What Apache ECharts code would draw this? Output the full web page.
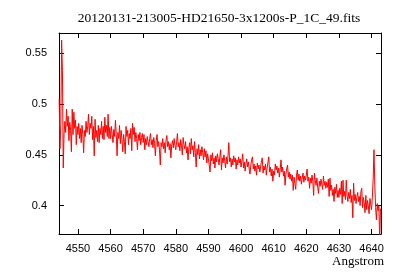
<!DOCTYPE html>
<html>
<head>
<meta charset="utf-8">
<script src="https://cdn.jsdelivr.net/npm/echarts@6.0.0/dist/echarts.min.js"></script>
<style>
  html, body { margin: 0; padding: 0; background: #fff; }
  #spectrum { width: 400px; height: 280px; }
</style>
</head>
<body>
<div id="spectrum"></div>
<script>
const step = 0.25
const segStart = [4544.25, 4550, 4560, 4570, 4580, 4590, 4600, 4610, 4620, 4630, 4640]
const f4544 = [505, 456, 480, 563, 533, 437, 470, 483, 472, 495, 478, 488, 464, 482, 474, 453, 495, 470, 492, 476, 484, 460, 478]
const f4550 = [470, 481, 466, 476, 462, 479, 470, 452, 474, 468, 483, 472, 478, 490, 470, 481, 476, 488, 465, 478,
  449, 485, 467, 474, 463, 479, 462, 476, 470, 483, 466, 478, 465, 487, 472, 479, 468, 490, 466, 477]
const f4560 = [466, 478, 470, 462, 475, 468, 484, 470, 449, 472, 466, 479, 461, 474, 465, 453, 470, 463, 451, 478,
  468, 474, 460, 471, 466, 476, 454, 481, 470, 477, 463, 472, 466, 455, 470, 464, 472, 460, 467, 471]
const f4570 = [462, 470, 455, 466, 460, 468, 463, 458, 466, 471, 460, 465, 457, 467, 461, 449, 464, 470, 458, 463,
  455, 440, 462, 458, 466, 456, 462, 452, 464, 469, 458, 463, 455, 461, 447, 460, 464, 457, 466, 459]
const f4580 = [455, 463, 471, 458, 462, 454, 465, 459, 450, 467, 460, 456, 463, 452, 458, 445, 457, 462, 451, 466,
  455, 459, 448, 463, 452, 438, 456, 450, 460, 446, 455, 449, 458, 452, 445, 456, 448, 454, 442, 451]
const f4590 = [446, 440, 433, 450, 444, 452, 441, 447, 437, 449, 443, 451, 446, 440, 448, 455, 435, 447, 442, 450,
  444, 437, 448, 441, 449, 462, 443, 447, 438, 446, 440, 449, 443, 447, 436, 445, 440, 448, 442, 446]
const f4600 = [438, 444, 451, 437, 443, 434, 441, 446, 438, 443, 436, 431, 440, 445, 448, 436, 441, 434, 439, 430,
  442, 436, 440, 433, 438, 444, 447, 432, 439, 435, 441, 430, 437, 443, 448, 433, 438, 429, 436, 424]
const f4610 = [434, 430, 441, 435, 439, 432, 437, 428, 436, 445, 433, 438, 429, 434, 420, 431, 436, 440, 428, 433,
  426, 431, 424, 430, 415, 428, 422, 416, 430, 435, 425, 431, 424, 429, 421, 427, 432, 423, 429, 425]
const f4620 = [430, 436, 424, 428, 417, 427, 422, 430, 424, 410, 432, 425, 420, 427, 418, 412, 424, 419, 426, 421,
  416, 429, 420, 424, 417, 423, 418, 426, 409, 427, 415, 420, 410, 416, 404, 418, 412, 421, 408, 415]
const f4630 = [408, 417, 411, 424, 402, 425, 409, 414, 406, 425, 410, 404, 413, 407, 416, 403, 410, 388, 422, 405,
  411, 402, 408, 413, 404, 409, 400, 414, 417, 398, 408, 403, 393, 410, 396, 405, 400, 392, 407, 401]
const f4640 = [396, 408, 426, 455, 420, 398, 386, 402, 395, 400, 365, 397]

const xTicks = [4550, 4560, 4570, 4580, 4590, 4600, 4610, 4620, 4630, 4640]
const yTicks = [0.4, 0.45, 0.5, 0.55]

const segFlux = [f4544, f4550, f4560, f4570, f4580, f4590, f4600, f4610, f4620, f4630, f4640]
let points = []
segFlux.forEach((seg, s) => {
  seg.forEach((v, i) => {
    points.push([segStart[s] + i * step, v / 1000])
  })
})

const labelFont = { fontFamily: 'Liberation Sans', fontSize: 11, color: '#000' }
const serif = 'Liberation Serif'

function xAxisDef (pos, showLabel) {
  return {
    type: 'value',
    position: pos,
    min: 4544.2,
    max: 4642.9,
    axisLine: { onZero: false, lineStyle: { color: '#000', width: 1 } },
    axisTick: { inside: true, length: 5, customValues: xTicks, lineStyle: { color: '#000' } },
    axisLabel: Object.assign({
      show: showLabel,
      margin: 9,
      customValues: xTicks,
      formatter: v => String(v)
    }, labelFont),
    splitLine: { show: false }
  }
}

function yAxisDef (pos, showLabel) {
  return {
    type: 'value',
    position: pos,
    min: 0.372,
    max: 0.57,
    axisLine: { show: true, onZero: false, lineStyle: { color: '#000', width: 1 } },
    axisTick: { show: true, inside: true, length: 5, customValues: yTicks, lineStyle: { color: '#000' } },
    axisLabel: Object.assign({
      show: showLabel,
      margin: 12,
      customValues: yTicks,
      formatter: v => String(v)
    }, labelFont),
    splitLine: { show: false }
  }
}

let myChart = echarts.init(document.getElementById('spectrum'))
let option = {
  animation: false,
  backgroundColor: '#fff',
  grid: { left: 59, right: 19, top: 33, bottom: 46 },
  xAxis: [xAxisDef('bottom', true), xAxisDef('top', false)],
  yAxis: [yAxisDef('left', true), yAxisDef('right', false)],
  graphic: [
    {
      type: 'text',
      x: 219,
      y: 18,
      style: {
        text: '20120131-213005-HD21650-3x1200s-P_1C_49.fits',
        font: '13.5px ' + serif,
        fill: '#000',
        align: 'center',
        verticalAlign: 'middle'
      }
    },
    {
      type: 'text',
      x: 384,
      y: 262,
      style: {
        text: 'Angstrom',
        font: '13px ' + serif,
        fill: '#000',
        align: 'right',
        verticalAlign: 'middle'
      }
    }
  ],
  series: [{
    type: 'line',
    data: points,
    showSymbol: false,
    clip: true,
    lineStyle: { color: '#ff0000', width: 1 }
  }]
}
myChart.setOption(option)
</script>
</body>
</html>
